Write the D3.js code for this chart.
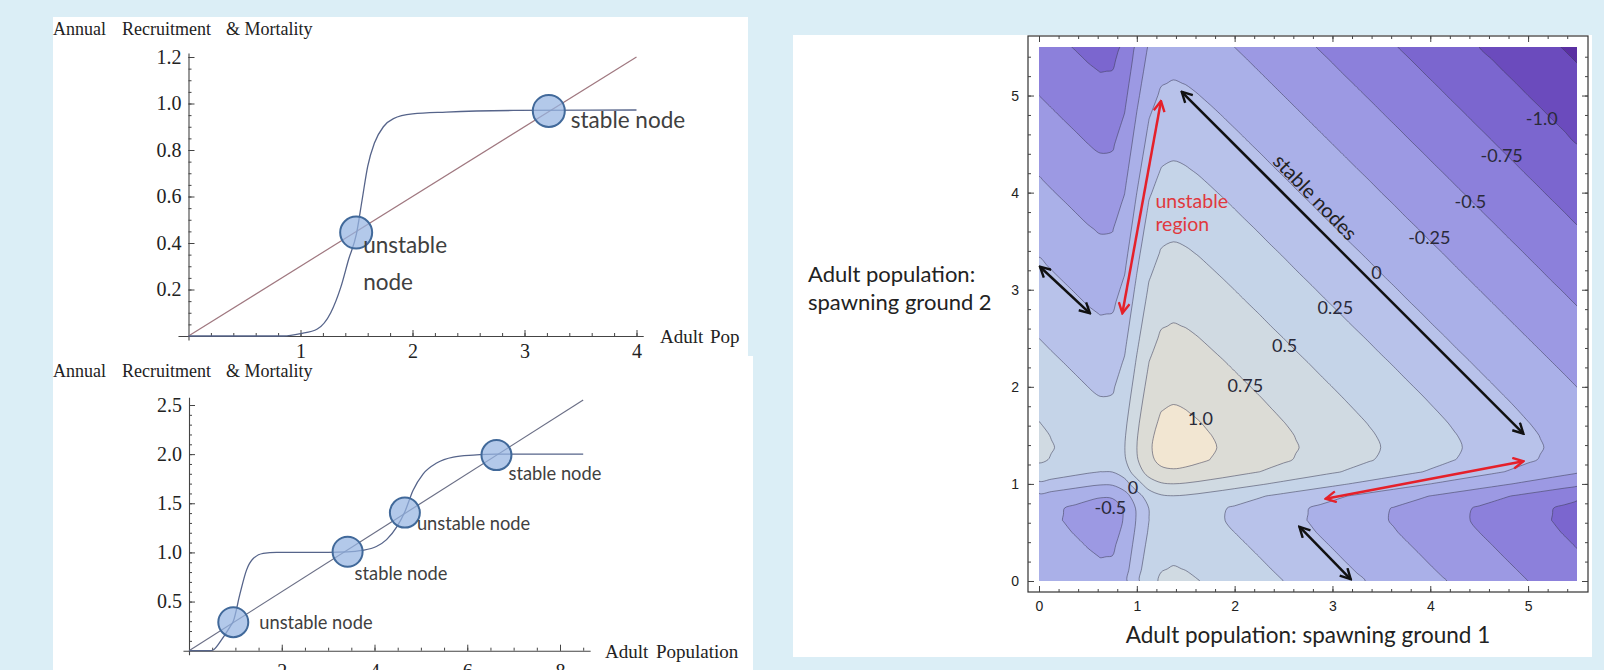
<!DOCTYPE html>
<html>
<head>
<meta charset="utf-8">
<script src="https://cdn.jsdelivr.net/npm/d3@7"></script>
<style>
  html, body { margin: 0; padding: 0; background: #dbeef6; }
  svg { display: block; }
</style>
</head>
<body>
<svg id="chart" width="1604" height="670"></svg>
<script>
// ---------------- data ----------------
// upper left: recruitment vs mortality, one stable node
const topMortality = [[0, 0], [4, 1.2]];
const topRecruitment = [[0, 0], [0.85, 0], [1.0, 0.01], [1.15, 0.03], [1.27, 0.1], [1.36, 0.21],
  [1.43, 0.33], [1.5, 0.44], [1.55, 0.585], [1.6, 0.73], [1.66, 0.83], [1.74, 0.9],
  [1.83, 0.935], [2.0, 0.955], [2.3, 0.963], [2.9, 0.97], [4.0, 0.972]];
const topNodes = [
  { x: 1.497, y: 0.445, lines: ['unstable', 'node'], dx: 7, dy: 20 },
  { x: 3.217, y: 0.968, lines: ['stable node'], dx: 22, dy: 17 }
];
const topXTicks = [1, 2, 3, 4];
const topYTicks = [0.2, 0.4, 0.6, 0.8, 1.0, 1.2];

// lower left: two plateaus, four nodes
const bottomMortality = [[0, 0], [8.5, 2.55]];
const bottomRecruitment = [[0, 0], [0.45, 0], [0.52, 0.007], [0.7, 0.11], [0.88, 0.24], [0.955, 0.3],
  [1.1, 0.58], [1.24, 0.82], [1.39, 0.94], [1.6, 0.99], [1.89, 1.0], [3.0, 1.0], [3.42, 1.005],
  [3.72, 1.02], [4.04, 1.06], [4.26, 1.13], [4.48, 1.26], [4.655, 1.414], [4.83, 1.63],
  [5.05, 1.8], [5.34, 1.91], [5.7, 1.97], [6.13, 1.99], [6.63, 2.0], [8.5, 2.0]];
const bottomNodes = [
  { x: 0.955, y: 0.29, lines: ['unstable node'], dx: 26, dy: 7 },
  { x: 3.42, y: 1.007, lines: ['stable node'], dx: 7, dy: 28 },
  { x: 4.655, y: 1.405, lines: ['unstable node'], dx: 12, dy: 17 },
  { x: 6.63, y: 1.99, lines: ['stable node'], dx: 12, dy: 25 }
];
const bottomXTicks = [2, 4, 6, 8];
const bottomYTicks = [0.5, 1.0, 1.5, 2.0, 2.5];

// right: net growth on one spawning ground, read every 0.125 from 0 to 5.5
const gridStep = 0.125;
const netGrowthProfile = [
  0.000, -0.038, -0.075, -0.112, -0.149, -0.178, -0.172, -0.054,
  0.200, 0.427, 0.528, 0.548, 0.533, 0.505, 0.471, 0.436,
  0.399, 0.362, 0.325, 0.287, 0.250, 0.212, 0.175, 0.137,
  0.100, 0.062, 0.025, -0.012, -0.050, -0.087, -0.125, -0.162,
  -0.200, -0.237, -0.275, -0.312, -0.350, -0.387, -0.425, -0.462,
  -0.500, -0.537, -0.575, -0.612, -0.650
];
const contourLevels = [-1.25, -1.0, -0.75, -0.5, -0.25, 0, 0.25, 0.5, 0.75, 1.0];
const contourLabels = [
  { text: '-1.0', x: 5.14, y: 4.77 }, { text: '-0.75', x: 4.73, y: 4.39 },
  { text: '-0.5', x: 4.41, y: 3.91 }, { text: '-0.25', x: 3.99, y: 3.54 },
  { text: '0', x: 3.45, y: 3.18 }, { text: '0.25', x: 3.03, y: 2.82 },
  { text: '0.5', x: 2.51, y: 2.43 }, { text: '0.75', x: 2.11, y: 2.02 },
  { text: '1.0', x: 1.65, y: 1.68 }, { text: '0', x: 0.96, y: 0.97 },
  { text: '-0.5', x: 0.73, y: 0.76 }
];
const blackArrows = [
  [[1.459, 5.039], [4.952, 1.517]],
  [[0.01, 3.237], [0.521, 2.757]],
  [[2.662, 0.559], [3.187, 0.018]]
];
const redArrows = [
  [[1.247, 4.943], [0.852, 2.757]],
  [[4.952, 1.233], [2.931, 0.848]]
];
const gridTicks = [0, 1, 2, 3, 4, 5];

// ---------------- drawing ----------------
const serif = '"Liberation Serif", "Times New Roman", serif';
const sans = 'Lato, "Open Sans", sans-serif';
const svg = d3.select('#chart');

svg.append('rect').attr('width', 1604).attr('height', 670).attr('fill', '#dbeef6');
svg.append('rect').attr('x', 53).attr('y', 17).attr('width', 695).attr('height', 340).attr('fill', '#fff');
svg.append('rect').attr('x', 53).attr('y', 356).attr('width', 700).attr('height', 314).attr('fill', '#fff');
svg.append('rect').attr('x', 793).attr('y', 35).attr('width', 799).attr('height', 622).attr('fill', '#fff');

function styleAxis(sel, family, size) {
  sel.attr('font-family', family).attr('font-size', size);
  sel.selectAll('line').attr('stroke', '#444');
  sel.selectAll('.domain').attr('stroke', '#444').attr('stroke-width', 1.1);
  sel.selectAll('text').attr('fill', '#222');
}

function drawRecruitment(c) {
  const g = svg.append('g');
  const x = d3.scaleLinear().domain(c.xDomain).range(c.xRange);
  const y = d3.scaleLinear().domain(c.yDomain).range(c.yRange);
  const xa = x.copy().domain(c.xSpan).range(c.xSpan.map(x));
  const ya = y.copy().domain(c.ySpan).range(c.ySpan.map(y));

  const title = g.append('text').attr('y', c.titleY).attr('font-family', serif)
    .attr('font-size', 18).attr('fill', '#222');
  title.append('tspan').attr('x', 53).text('Annual');
  title.append('tspan').attr('x', 122).text('Recruitment');
  title.append('tspan').attr('x', 226).text('& Mortality');

  // x axis: minor then major ticks
  g.append('g').attr('transform', `translate(0,${y(0)})`)
    .call(d3.axisBottom(xa).tickValues(c.xMinor).tickSize(-3).tickSizeOuter(0).tickFormat(''))
    .call(styleAxis, serif, 20);
  g.append('g').attr('transform', `translate(0,${y(0)})`)
    .call(d3.axisBottom(xa).tickValues(c.xTicks).tickSize(-6).tickSizeOuter(0)
      .tickPadding(c.xPad).tickFormat(d3.format('d')))
    .call(sel => sel.select('.domain').remove())
    .call(styleAxis, serif, 20);
  g.append('g').attr('transform', `translate(${x(0)},0)`)
    .call(d3.axisLeft(ya).tickValues(c.yMinor).tickSize(-3).tickSizeOuter(0).tickFormat(''))
    .call(styleAxis, serif, 20);
  g.append('g').attr('transform', `translate(${x(0)},0)`)
    .call(d3.axisLeft(ya).tickValues(c.yTicks).tickSize(-6).tickSizeOuter(0)
      .tickPadding(7).tickFormat(d3.format('.1f')))
    .call(sel => sel.select('.domain').remove())
    .call(styleAxis, serif, 20);

  const label = g.append('text').attr('y', c.xLabelY).attr('font-family', serif)
    .attr('font-size', 19).attr('fill', '#222');
  c.xLabel.forEach((w, i) => label.append('tspan').attr('x', c.xLabelX[i]).text(w));

  const line = d3.line().x(d => x(d[0])).y(d => y(d[1]));
  g.append('path').datum(c.mortality).attr('d', line)
    .attr('fill', 'none').attr('stroke', c.mortalityColor).attr('stroke-width', 1.2);
  g.append('path').datum(c.recruitment).attr('d', line.curve(d3.curveMonotoneX))
    .attr('fill', 'none').attr('stroke', '#56648a').attr('stroke-width', 1.3);

  const node = g.selectAll('g.node').data(c.nodes).join('g').attr('class', 'node')
    .attr('transform', d => `translate(${x(d.x)},${y(d.y)})`);
  node.append('circle').attr('r', c.r)
    .attr('fill', 'rgba(150,180,226,0.72)').attr('stroke', '#41699a').attr('stroke-width', 2);
  node.append('text').attr('font-family', sans).attr('font-size', c.nodeFont).attr('fill', '#404040')
    .selectAll('tspan').data(d => d.lines.map((t, i) => ({ t, i, d }))).join('tspan')
    .attr('x', o => o.d.dx).attr('y', o => o.d.dy + o.i * 37).text(o => o.t);
}

drawRecruitment({
  xDomain: [0, 4], xRange: [188.5, 636.5], yDomain: [0, 1.2], yRange: [336, 57],
  xSpan: [-0.094, 4.06], ySpan: [-0.017, 1.217],
  xTicks: topXTicks, yTicks: topYTicks,
  xMinor: d3.range(1, 21).map(i => i * 0.2), yMinor: d3.range(1, 25).map(i => i * 0.05),
  xPad: 8, titleY: 35, xLabel: ['Adult', 'Pop'], xLabelX: [660, 710], xLabelY: 343,
  mortality: topMortality, recruitment: topRecruitment, mortalityColor: '#a07880',
  nodes: topNodes, r: 16, nodeFont: 22.5
});
drawRecruitment({
  xDomain: [0, 8], xRange: [189, 560], yDomain: [0, 2.5], yRange: [650.7, 405],
  xSpan: [-0.13, 8.65], ySpan: [-0.04, 2.58],
  xTicks: bottomXTicks, yTicks: bottomYTicks,
  xMinor: d3.range(1, 18).map(i => i * 0.5), yMinor: d3.range(1, 26).map(i => i * 0.1),
  xPad: 13, titleY: 377, xLabel: ['Adult', 'Population'], xLabelX: [605, 656], xLabelY: 658,
  mortality: bottomMortality, recruitment: bottomRecruitment, mortalityColor: '#6b6f86',
  nodes: bottomNodes, r: 15, nodeFont: 18.3
});

// ---------------- contour plot ----------------
const xR = d3.scaleLinear().domain([0, 5.5]).range([1039, 1577]);
const yR = d3.scaleLinear().domain([0, 5.5]).range([581, 47]);
const bandColors = ['#5a2fa2', '#6b4bbd', '#7b66cf', '#8c80db', '#9c99e3', '#aab0e8',
  '#b8c2ea', '#c5d4e8', '#d0dae2', '#dcdcd6', '#f2e6d2'];

const n = netGrowthProfile.length;
const field = new Array(n * n);
for (let j = 0; j < n; j++) {
  for (let i = 0; i < n; i++) field[j * n + i] = netGrowthProfile[i] + netGrowthProfile[j];
}
const bands = d3.contours().size([n, n]).thresholds(contourLevels)(field);

const ring = d3.line()
  .x(p => xR((p[0] - 0.5) * gridStep))
  .y(p => yR((p[1] - 0.5) * gridStep))
  .curve(d3.curveCatmullRomClosed.alpha(0.5));
const geomPath = geom => geom.coordinates
  .map(poly => poly.map(r => ring(r.slice(0, -1))).join('')).join('');

svg.append('defs').append('clipPath').attr('id', 'plotClip')
  .append('rect').attr('x', xR(0)).attr('y', yR(5.5))
  .attr('width', xR(5.5) - xR(0)).attr('height', yR(0) - yR(5.5));

const plot = svg.append('g').attr('clip-path', 'url(#plotClip)');
plot.append('rect').attr('x', xR(0)).attr('y', yR(5.5))
  .attr('width', xR(5.5) - xR(0)).attr('height', yR(0) - yR(5.5)).attr('fill', bandColors[0]);
plot.selectAll('path.band').data(bands).join('path').attr('class', 'band')
  .attr('d', geomPath).attr('fill-rule', 'evenodd')
  .attr('fill', (d, i) => bandColors[i + 1]);
plot.selectAll('path.iso').data(bands).join('path').attr('class', 'iso')
  .attr('d', geomPath).attr('fill', 'none')
  .attr('stroke', '#3c3c55').attr('stroke-opacity', 0.6).attr('stroke-width', 0.9);

// frame with ticks on all sides
const pad = 11;
const fx0 = xR(0) - pad, fx1 = xR(5.5) + pad, fy0 = yR(5.5) - pad, fy1 = yR(0) + pad;
const minorGrid = d3.range(0, 28).map(i => i * 0.2);
const frame = svg.append('g');
frame.append('rect').attr('x', fx0).attr('y', fy0).attr('width', fx1 - fx0).attr('height', fy1 - fy0)
  .attr('fill', 'none').attr('stroke', '#333').attr('stroke-width', 1.2);
const sides = [
  [d3.axisBottom(xR), `translate(0,${fy1})`, true],
  [d3.axisTop(xR), `translate(0,${fy0})`, false],
  [d3.axisLeft(yR), `translate(${fx0},0)`, true],
  [d3.axisRight(yR), `translate(${fx1},0)`, false]
];
sides.forEach(([axis, tr, labelled]) => {
  frame.append('g').attr('transform', tr)
    .call(axis.tickValues(minorGrid).tickSize(-3).tickFormat(''))
    .call(sel => sel.select('.domain').remove())
    .call(styleAxis, sans, 15);
  frame.append('g').attr('transform', tr)
    .call(axis.tickValues(gridTicks).tickSize(-6).tickPadding(labelled ? 9 : 0)
      .tickFormat(labelled ? d3.format('d') : ''))
    .call(sel => sel.select('.domain').remove())
    .call(styleAxis, '"Liberation Sans", sans-serif', 14);
});

// contour value labels
svg.append('g').selectAll('text').data(contourLabels).join('text')
  .attr('x', d => xR(d.x)).attr('y', d => yR(d.y))
  .attr('text-anchor', 'middle').attr('dominant-baseline', 'central')
  .attr('font-family', sans).attr('font-size', 18).attr('fill', '#2a2a3a')
  .text(d => d.text);

// arrows
const defs = svg.select('defs');
[['headBlack', '#111'], ['headRed', '#e5202a']].forEach(([id, col]) => {
  defs.append('marker').attr('id', id).attr('viewBox', '0 0 12 12')
    .attr('refX', 10.5).attr('refY', 6).attr('markerWidth', 13).attr('markerHeight', 13)
    .attr('markerUnits', 'userSpaceOnUse').attr('orient', 'auto-start-reverse')
    .append('path').attr('d', 'M1,1 L10.5,6 L1,11').attr('fill', 'none')
    .attr('stroke', col).attr('stroke-width', 2.2);
});
const arrows = svg.append('g');
function arrow(pair, col, id) {
  arrows.append('line')
    .attr('x1', xR(pair[0][0])).attr('y1', yR(pair[0][1]))
    .attr('x2', xR(pair[1][0])).attr('y2', yR(pair[1][1]))
    .attr('stroke', col).attr('stroke-width', 2.5)
    .attr('marker-start', `url(#${id})`).attr('marker-end', `url(#${id})`);
}
blackArrows.forEach(a => arrow(a, '#111', 'headBlack'));
redArrows.forEach(a => arrow(a, '#e5202a', 'headRed'));

// annotations and axis titles
svg.append('text').attr('transform', `translate(${xR(2.83)},${yR(3.96)}) rotate(46)`)
  .attr('text-anchor', 'middle').attr('dominant-baseline', 'central')
  .attr('font-family', sans).attr('font-size', 20).attr('fill', '#222').text('stable nodes');
const unstable = svg.append('text').attr('font-family', sans).attr('font-size', 19.5).attr('fill', '#e0393e');
unstable.append('tspan').attr('x', xR(1.19)).attr('y', yR(3.84)).text('unstable');
unstable.append('tspan').attr('x', xR(1.19)).attr('y', yR(3.61)).text('region');

svg.append('text').attr('x', (xR(0) + xR(5.5)) / 2).attr('y', 643).attr('text-anchor', 'middle')
  .attr('font-family', sans).attr('font-size', 22.5).attr('fill', '#222')
  .text('Adult population: spawning ground 1');
const yTitle = svg.append('text').attr('font-family', sans).attr('font-size', 22).attr('fill', '#222');
yTitle.append('tspan').attr('x', 808).attr('y', 282).text('Adult population:');
yTitle.append('tspan').attr('x', 808).attr('y', 310).text('spawning ground 2');
</script>
</body>
</html>
